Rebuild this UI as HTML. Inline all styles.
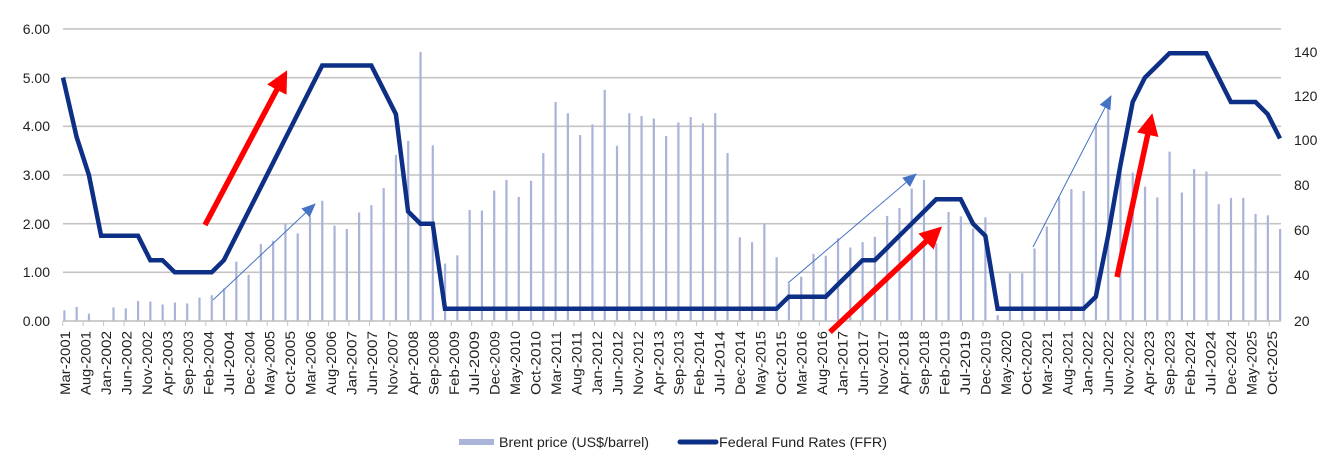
<!DOCTYPE html>
<html><head><meta charset="utf-8"><style>
html,body{margin:0;padding:0;background:#fff;width:1336px;height:466px;overflow:hidden}
svg{display:block}
text{font-family:"Liberation Sans",Arial,sans-serif;fill:#222}
</style></head><body>
<svg id="s" width="1336" height="466" viewBox="0 0 1336 466" xmlns="http://www.w3.org/2000/svg">
<g id="grid"></g>
<g id="bars"></g>
<g id="ticks"></g>
<polyline id="ffr" fill="none" stroke="#0e2f86" stroke-width="4.5" stroke-linejoin="miter" points=""/>
<defs>
<marker id="rh" markerWidth="4" markerHeight="4" refX="2" refY="2" orient="auto" markerUnits="strokeWidth"><path d="M0,0 L4,2 L0,4 z" fill="#ff0000"/></marker>
<marker id="bh" markerWidth="14" markerHeight="12" refX="13" refY="6" orient="auto" markerUnits="userSpaceOnUse"><path d="M0,0 L14,6 L0,12 z" fill="#4472c4"/></marker>
</defs>
<g stroke="#ff0000" stroke-width="5.5" fill="none">
<line x1="205" y1="225" x2="282" y2="80" marker-end="url(#rh)"/>
<line x1="830" y1="332" x2="934" y2="234" marker-end="url(#rh)"/>
<line x1="1117" y1="277" x2="1150" y2="124" marker-end="url(#rh)"/>
</g>
<g stroke="#4472c4" stroke-width="1" fill="none">
<line x1="213" y1="300" x2="315" y2="204" marker-end="url(#bh)"/>
<line x1="788" y1="283" x2="916" y2="174" marker-end="url(#bh)"/>
<line x1="1033" y1="247" x2="1111" y2="96" marker-end="url(#bh)"/>
</g>
<g font-size="14" text-anchor="end">
<text x="50" y="34">6.00</text><text x="50" y="83">5.00</text><text x="50" y="131">4.00</text>
<text x="50" y="180">3.00</text><text x="50" y="229">2.00</text><text x="50" y="277">1.00</text><text x="50" y="326">0.00</text>
</g>
<g font-size="14" text-anchor="start">
<text x="1294" y="57">140</text><text x="1294" y="101">120</text><text x="1294" y="145">100</text>
<text x="1294" y="190">80</text><text x="1294" y="235">60</text><text x="1294" y="280">40</text><text x="1294" y="326">20</text>
</g>
<g id="xl" font-size="14" text-anchor="end">
<text>Mar-2001</text><text>Aug-2001</text><text>Jan-2002</text><text>Jun-2002</text><text>Nov-2002</text><text>Apr-2003</text><text>Sep-2003</text><text>Feb-2004</text><text>Jul-2004</text><text>Dec-2004</text><text>May-2005</text><text>Oct-2005</text><text>Mar-2006</text><text>Aug-2006</text><text>Jan-2007</text><text>Jun-2007</text><text>Nov-2007</text><text>Apr-2008</text><text>Sep-2008</text><text>Feb-2009</text><text>Jul-2009</text><text>Dec-2009</text><text>May-2010</text><text>Oct-2010</text><text>Mar-2011</text><text>Aug-2011</text><text>Jan-2012</text><text>Jun-2012</text><text>Nov-2012</text><text>Apr-2013</text><text>Sep-2013</text><text>Feb-2014</text><text>Jul-2014</text><text>Dec-2014</text><text>May-2015</text><text>Oct-2015</text><text>Mar-2016</text><text>Aug-2016</text><text>Jan-2017</text><text>Jun-2017</text><text>Nov-2017</text><text>Apr-2018</text><text>Sep-2018</text><text>Feb-2019</text><text>Jul-2019</text><text>Dec-2019</text><text>May-2020</text><text>Oct-2020</text><text>Mar-2021</text><text>Aug-2021</text><text>Jan-2022</text><text>Jun-2022</text><text>Nov-2022</text><text>Apr-2023</text><text>Sep-2023</text><text>Feb-2024</text><text>Jul-2024</text><text>Dec-2024</text><text>May-2025</text><text>Oct-2025</text>
</g>
<rect x="459" y="439" width="35" height="6" fill="#a9b4d8"/>
<text x="499" y="447" font-size="13.5" textLength="150" lengthAdjust="spacingAndGlyphs">Brent price (US$/barrel)</text>
<line x1="680" y1="442" x2="716" y2="442" stroke="#0e2f86" stroke-width="5" stroke-linecap="round"/>
<text x="719" y="447" font-size="13.5" textLength="168" lengthAdjust="spacingAndGlyphs">Federal Fund Rates (FFR)</text>
</svg>
<script>
var NS="http://www.w3.org/2000/svg";
function el(t,a,p){var e=document.createElementNS(NS,t);for(var k in a)e.setAttribute(k,a[k]);document.getElementById(p).appendChild(e);return e;}
var Y=function(v){return 321-v*48.67;};
[0,1,2,3,4,5,6].forEach(function(v){el('line',{x1:63,x2:1281,y1:Y(v),y2:Y(v),stroke:'#c4c4c4','stroke-width':1.6},'grid');});
var b=[0.22,0.29,0.15,0.02,0.28,0.26,0.41,0.40,0.34,0.38,0.36,0.48,0.53,0.67,1.22,0.95,1.58,1.65,2.0,1.80,2.15,2.47,1.96,1.89,2.23,2.38,2.73,3.41,3.70,5.53,3.61,1.18,1.35,2.28,2.27,2.68,2.90,2.55,2.88,3.45,4.50,4.27,3.82,4.04,4.75,3.60,4.27,4.21,4.16,3.80,4.08,4.19,4.06,4.27,3.45,1.72,1.62,2.0,1.31,0.77,0.91,1.38,1.34,1.70,1.51,1.62,1.73,2.16,2.32,2.72,2.90,1.60,2.24,2.15,1.90,2.13,0.12,0.98,0.98,1.49,1.94,2.54,2.71,2.67,4.06,4.40,3.15,3.05,2.76,2.54,3.48,2.64,3.12,3.07,2.40,2.53,2.53,2.20,2.17,1.89];
var f=[5.0,3.78,3.0,1.75,1.75,1.75,1.75,1.25,1.25,1.0,1.0,1.0,1.0,1.25,1.75,2.25,2.75,3.25,3.75,4.25,4.75,5.25,5.25,5.25,5.25,5.25,4.75,4.25,2.25,2.0,2.0,0.25];
while(f.length<59)f.push(0.25);
f=f.concat([0.5,0.5,0.5,0.5,0.75,1.0,1.25,1.25,1.5,1.75,2.0,2.25,2.5,2.5,2.5,2.0,1.75,0.25]);
while(f.length<84)f.push(0.25);
f=f.concat([0.5,1.75,3.2,4.5,5.0,5.25,5.5,5.5,5.5,5.5,5.0,4.5,4.5,4.5,4.25,3.75]);
var pts=[];
for(var i=0;i<100;i++){var x=64.3+i*12.28;
 el('rect',{x:x-1,y:Y(b[i]),width:2.2,height:b[i]*48.67,fill:'#a9b4d8'},'bars');
 pts.push((i==0?63:x).toFixed(1)+','+Y(f[i]).toFixed(1));}
document.getElementById('ffr').setAttribute('points',pts.join(' '));
el('line',{x1:63,x2:1281,y1:321,y2:321,stroke:'#c4c4c4','stroke-width':1.2},'ticks');
var ts=document.querySelectorAll('#xl text');
for(var k=0;k<60;k++){var tx=62.7+k*20.45;
 el('line',{x1:tx,x2:tx,y1:321,y2:326,stroke:'#c4c4c4','stroke-width':1},'ticks');
 var t=ts[k];t.setAttribute('transform','translate('+(tx+7.5)+',331) rotate(-90)');t.setAttribute('x',0);t.setAttribute('y',0);
 t.setAttribute('textLength',64);t.setAttribute('lengthAdjust','spacingAndGlyphs');}
</script>
</body></html>
